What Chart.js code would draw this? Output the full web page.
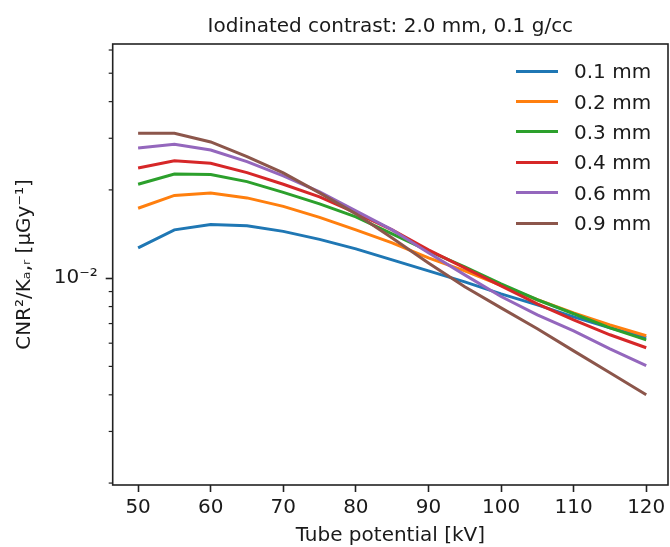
<!DOCTYPE html>
<html lang="en">
<head>
<meta charset="UTF-8">
<title>Iodinated contrast</title>
<script src="https://cdn.jsdelivr.net/npm/chart.js"></script>
<style>
  html, body { margin: 0; padding: 0; background: #fff; overflow: hidden; }
  .wrap { position: relative; width: 670px; height: 547px; }
  #grafico { display: block; }
  .legenda { position: absolute; left: 516px; top: 56px; font: 20px "DejaVu Sans", sans-serif; color: #1a1a1a; }
  .item { display: flex; align-items: center; height: 30.4px; white-space: nowrap; }
  .traco { width: 42px; height: 3px; margin-right: 16px; }
</style>
</head>
<body>
<div class="wrap">
  <canvas id="grafico" width="670" height="547"></canvas>
  <div class="legenda" id="legenda"></div>
</div>

<script>
  // tensao do tubo (kV)
  const kv = [50, 55, 60, 65, 70, 75, 80, 85, 90, 95, 100, 105, 110, 115, 120];

  // CNR^2/Ka,r por espessura
  const s01 = [0.01269, 0.01461, 0.01525, 0.01508, 0.01444, 0.01356, 0.01259, 0.01154, 0.01059, 0.00971, 0.00884, 0.00811, 0.00738, 0.00677, 0.00626];
  const s02 = [0.01732, 0.01915, 0.01953, 0.01878, 0.01757, 0.01612, 0.01461, 0.01320, 0.01173, 0.01059, 0.00945, 0.00844, 0.00761, 0.00693, 0.00636];
  const s03 = [0.02091, 0.02267, 0.02258, 0.02134, 0.01961, 0.01792, 0.01618, 0.01416, 0.01239, 0.01093, 0.00956, 0.00844, 0.00756, 0.00677, 0.00616];
  const s04 = [0.02376, 0.02516, 0.02466, 0.02290, 0.02091, 0.01893, 0.01670, 0.01461, 0.01249, 0.01084, 0.00941, 0.00817, 0.00721, 0.00641, 0.00579];
  const s06 = [0.02781, 0.02862, 0.02737, 0.02497, 0.02232, 0.01968, 0.01696, 0.01461, 0.01220, 0.01026, 0.00866, 0.00750, 0.00661, 0.00574, 0.00503];
  const s09 = [0.03120, 0.03120, 0.02915, 0.02597, 0.02285, 0.01953, 0.01657, 0.01372, 0.01127, 0.00934, 0.00792, 0.00672, 0.00565, 0.00476, 0.00400];

  const rotulos = ['0.1 mm', '0.2 mm', '0.3 mm', '0.4 mm', '0.6 mm', '0.9 mm'];
  const cores = ['#1f77b4', '#ff7f0e', '#2ca02c', '#d62728', '#9467bd', '#8c564b'];
  const series = [s01, s02, s03, s04, s06, s09];

  // ticks
  const xTicks = [50, 60, 70, 80, 90, 100, 110, 120];
  const yMaior = [0.01];
  const yMenores = [0.002, 0.003, 0.004, 0.005, 0.006, 0.007, 0.008, 0.009, 0.02, 0.03, 0.04, 0.05, 0.06];

  const titulo = 'Iodinated contrast: 2.0 mm, 0.1 g/cc';
  const fonte = { family: "'DejaVu Sans', sans-serif", size: 20, weight: 'normal' };
  const corTexto = '#1a1a1a';
  const corEixo = '#222222';

  // moldura completa, ticks menores do eixo log e titulo centrado no eixo
  const moldura = {
    id: 'moldura',
    afterDraw(chart) {
      const { ctx, chartArea: a, scales: { y } } = chart;
      ctx.save();
      ctx.strokeStyle = corEixo;
      ctx.lineWidth = 1.6;
      ctx.strokeRect(a.left, a.top, a.right - a.left, a.bottom - a.top);
      ctx.lineWidth = 1.2;
      yMenores.forEach(v => {
        const py = y.getPixelForValue(v);
        ctx.beginPath();
        ctx.moveTo(a.left - 4, py);
        ctx.lineTo(a.left, py);
        ctx.stroke();
      });
      ctx.fillStyle = corTexto;
      ctx.font = '20px "DejaVu Sans", sans-serif';
      ctx.textAlign = 'center';
      ctx.textBaseline = 'alphabetic';
      ctx.fillText(titulo, (a.left + a.right) / 2, a.top - 12);
      ctx.restore();
    }
  };

  const datasets = series.map((dados, i) => ({
    label: rotulos[i],
    data: kv.map((x, j) => ({ x: x, y: dados[j] })),
    borderColor: cores[i],
    backgroundColor: cores[i],
    borderWidth: 3,
    pointRadius: 0,
    fill: false,
    tension: 0,
    order: series.length - 1 - i
  }));

  new Chart(document.getElementById('grafico'), {
    type: 'line',
    data: { datasets: datasets },
    options: {
      responsive: false,
      animation: false,
      layout: { padding: { left: 0, right: 2, top: 44, bottom: 0 } },
      plugins: {
        legend: { display: false },
        tooltip: { enabled: false },
        title: { display: false }
      },
      scales: {
        x: {
          type: 'linear',
          min: 46.5,
          max: 123,
          afterBuildTicks: s => { s.ticks = xTicks.map(v => ({ value: v })); },
          afterFit: s => { s.height = 62; },
          ticks: { color: corTexto, font: fonte, padding: 4, maxRotation: 0 },
          grid: { display: true, drawOnChartArea: false, drawTicks: true, tickLength: 7, tickWidth: 1.6, tickColor: corEixo },
          border: { display: false },
          title: { display: true, text: 'Tube potential [kV]', color: corTexto, font: fonte, padding: { top: 0, bottom: -1 } }
        },
        y: {
          type: 'logarithmic',
          min: 0.00197,
          max: 0.0629,
          afterBuildTicks: s => { s.ticks = yMaior.map(v => ({ value: v, major: true })); },
          afterFit: s => { s.width = 112.7; },
          ticks: {
            color: corTexto,
            font: fonte,
            padding: 8,
            callback: v => (v === 0.01 ? '10\u207B\u00B2' : '')
          },
          grid: { display: true, drawOnChartArea: false, drawTicks: true, tickLength: 7, tickWidth: 1.6, tickColor: corEixo },
          border: { display: false },
          title: { display: true, text: 'CNR\u00B2/K\u2090,\u1D63 [\u03BCGy\u207B\u00B9]', color: corTexto, font: fonte, padding: { top: 13, bottom: 0 } }
        }
      }
    },
    plugins: [moldura]
  });

  // legenda no canto superior direito
  const legenda = document.getElementById('legenda');
  rotulos.forEach((r, i) => {
    const item = document.createElement('div');
    item.className = 'item';
    item.innerHTML = '<span class="traco" style="background:' + cores[i] + '"></span><span>' + r + '</span>';
    legenda.appendChild(item);
  });
</script>
</body>
</html>
